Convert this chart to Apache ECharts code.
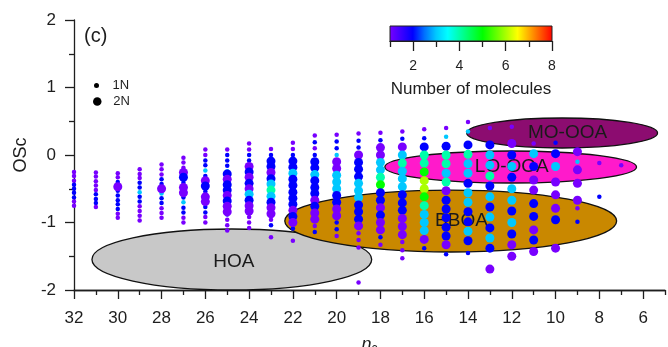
<!DOCTYPE html>
<html><head><meta charset="utf-8">
<script src="https://cdn.jsdelivr.net/npm/echarts@6/dist/echarts.min.js"></script>
<style>html,body{margin:0;padding:0;background:#fff}#c{width:668px;height:347px}</style>
</head><body><div id="c"></div>
<script>
// ---- tick values ----
const xTickValues = [6, 8, 10, 12, 14, 16, 18, 20, 22, 24, 26, 28, 30, 32];
const xMinorTickValues = [5, 7, 9, 11, 13, 15, 17, 19, 21, 23, 25, 27, 29, 31];
const colorbarTicks = [2, 4, 6, 8];
const colorbarMinorTicks = [1, 3, 5, 7];
const rainbowColors = ['#7800ff','#3c00ff','#0000ff','#0070ff','#00c8ff','#00ffff','#00ffaa','#00ff55','#00ff00','#55ff00','#aaff00','#ffff00','#ffaa00','#ff5500','#ff0000'];

// ---- source-type regions (ellipses in data units) ----
const regionNames = ['HOA', 'BBOA', 'LO-OOA', 'MO-OOA'];
const regionCx = [24.79, 14.79, 12.05, 9.7];
const regionCy = [-1.548, -0.978, -0.178, 0.326];
const regionRx = [6.39, 7.58, 5.75, 4.36];
const regionRy = [0.452, 0.459, 0.237, 0.222];
const regionLabelX = [24.7, 14.3, 12.0, 9.45];
const regionLabelY = [-1.58, -0.97, -0.18, 0.33];
const regionFill = ['#c8c8c8', '#c98800', '#ff1acb', '#8c0c70'];

// ---- points: [carbon number, OSc, number of molecules] ----
const oneN = [
 [32,-0.25,1],[32,-0.31,1],[32,-0.38,1],[32,-0.44,2],[32,-0.5,2],[32,-0.56,2],[32,-0.63,2],[32,-0.69,1],[32,-0.75,1],
 [31,-0.26,1],[31,-0.32,1],[31,-0.39,1],[31,-0.45,1],[31,-0.52,1],[31,-0.58,2],[31,-0.65,2],[31,-0.71,2],[31,-0.77,1],
 [30,-0.27,1],[30,-0.33,1],[30,-0.4,2],[30,-0.47,2],[30,-0.53,2],[30,-0.6,2],[30,-0.67,2],[30,-0.73,2],[30,-0.8,2],[30,-0.87,1],[30,-0.93,1],
 [29,-0.21,1],[29,-0.28,1],[29,-0.34,1],[29,-0.41,2],[29,-0.48,2],[29,-0.55,3],[29,-0.62,2],[29,-0.69,2],[29,-0.76,1],[29,-0.83,1],[29,-0.9,1],[29,-0.97,1],
 [28,-0.14,1],[28,-0.21,1],[28,-0.29,1],[28,-0.36,2],[28,-0.43,2],[28,-0.5,2],[28,-0.57,3],[28,-0.64,2],[28,-0.71,2],[28,-0.79,1],[28,-0.86,1],[28,-0.93,1],
 [27,-0.04,1],[27,-0.11,1],[27,-0.19,1],[27,-0.26,2],[27,-0.33,2],[27,-0.41,2],[27,-0.48,3],[27,-0.56,2],[27,-0.63,2],[27,-0.7,3],[27,-0.78,2],[27,-0.85,2],[27,-0.93,1],[27,-1.0,1],
 [26,0.08,1],[26,0,1],[26,-0.08,2],[26,-0.15,2],[26,-0.23,3],[26,-0.31,2],[26,-0.38,2],[26,-0.46,3],[26,-0.54,2],[26,-0.62,2],[26,-0.69,2],[26,-0.77,2],[26,-0.85,2],[26,-0.92,1],[26,-1.0,1],
 [25,0.08,1],[25,0,2],[25,-0.08,2],[25,-0.16,2],[25,-0.24,3],[25,-0.32,3],[25,-0.4,2],[25,-0.48,2],[25,-0.56,3],[25,-0.64,2],[25,-0.72,2],[25,-0.8,2],[25,-0.88,2],[25,-0.96,1],[25,-1.04,1],[25,-1.12,1],
 [24,0.17,1],[24,0.08,1],[24,0,2],[24,-0.08,2],[24,-0.17,2],[24,-0.25,2],[24,-0.33,2],[24,-0.42,3],[24,-0.5,2],[24,-0.58,3],[24,-0.67,2],[24,-0.75,2],[24,-0.83,3],[24,-0.92,1],[24,-1.0,1],[24,-1.08,1],
 [23,0.09,1],[23,0,2],[23,-0.09,2],[23,-0.17,2],[23,-0.26,2],[23,-0.35,2],[23,-0.43,3],[23,-0.52,3],[23,-0.61,2],[23,-0.7,2],[23,-0.78,2],[23,-0.87,2],[23,-0.96,1],[23,-1.04,2],[23,-1.22,1],
 [22,0.18,1],[22,0.09,1],[22,0,2],[22,-0.09,2],[22,-0.18,2],[22,-0.27,3],[22,-0.36,3],[22,-0.45,2],[22,-0.55,2],[22,-0.64,2],[22,-0.73,2],[22,-0.82,2],[22,-0.91,2],[22,-1.0,1],[22,-1.09,2],[22,-1.27,1],
 [21,0.29,1],[21,0.19,2],[21,0.1,1],[21,0,2],[21,-0.1,2],[21,-0.19,3],[21,-0.29,2],[21,-0.38,2],[21,-0.48,2],[21,-0.57,2],[21,-0.67,2],[21,-0.76,2],[21,-0.86,3],[21,-0.95,2],[21,-1.05,1],[21,-1.14,2],
 [20,0.3,1],[20,0.2,2],[20,0.1,2],[20,0,3],[20,-0.1,2],[20,-0.2,2],[20,-0.3,2],[20,-0.4,2],[20,-0.5,3],[20,-0.6,3],[20,-0.7,2],[20,-0.8,2],[20,-0.9,3],[20,-1.0,2],[20,-1.1,2],[20,-1.2,1],
 [19,0.32,1],[19,0.21,2],[19,0.11,2],[19,0,3],[19,-0.11,2],[19,-0.21,2],[19,-0.32,2],[19,-0.42,3],[19,-0.53,3],[19,-0.63,3],[19,-0.74,2],[19,-0.84,2],[19,-0.95,2],[19,-1.05,2],[19,-1.16,1],[19,-1.26,1],[19,-1.37,1],[19,-1.89,1],
 [18,0.33,1],[18,0.22,2],[18,-1.22,2],[18,-1.33,1],
 [17,0.35,1],[17,0.24,2],[17,-1.29,1],[17,-1.41,1],[17,-1.53,1],
 [16,0.38,1],[16,0.25,2],[16,-1.38,2],
 [15,0.4,1],[15,0.27,3],[15,-1.47,2],
 [14,0.49,1],[14,0.35,3],[14,-1.45,2],
 [13,0.4,1],
 [12,0.42,1],
 [11,0.17,1],
 [10,0.18,2],
 [9,-0.1,3],[9,-0.79,1],[9,-0.99,2],
 [8,-0.12,1],[8,-0.62,2],
 [7,-0.15,1]
];
const twoN = [
 [30,-0.47,1],
 [28,-0.5,1],
 [27,-0.26,1],[27,-0.33,2],[27,-0.48,1],[27,-0.56,1],
 [26,-0.38,1],[26,-0.46,2],[26,-0.62,1],[26,-0.69,1],
 [25,-0.28,2],[25,-0.36,1],[25,-0.44,2],[25,-0.52,2],[25,-0.6,1],[25,-0.68,2],[25,-0.76,1],[25,-0.84,1],
 [24,-0.17,1],[24,-0.25,2],[24,-0.33,1],[24,-0.42,2],[24,-0.5,1],[24,-0.58,3],[24,-0.67,2],[24,-0.75,1],[24,-0.83,1],
 [23,-0.09,2],[23,-0.17,2],[23,-0.26,1],[23,-0.35,2],[23,-0.43,3],[23,-0.52,4],[23,-0.61,3],[23,-0.7,2],[23,-0.78,1],[23,-0.87,1],
 [22,-0.09,2],[22,-0.18,2],[22,-0.27,3],[22,-0.36,2],[22,-0.45,2],[22,-0.55,2],[22,-0.64,2],[22,-0.73,2],[22,-0.82,1],[22,-0.91,2],[22,-1.0,1],
 [21,-0.1,2],[21,-0.19,2],[21,-0.29,3],[21,-0.38,2],[21,-0.48,2],[21,-0.57,2],[21,-0.67,1],[21,-0.76,2],[21,-0.86,1],[21,-0.95,1],
 [20,-0.1,1],[20,-0.2,1],[20,-0.3,3],[20,-0.4,3],[20,-0.5,3],[20,-0.6,2],[20,-0.7,2],[20,-0.8,1],[20,-0.9,1],
 [19,0,1],[19,-0.11,2],[19,-0.21,2],[19,-0.32,2],[19,-0.42,3],[19,-0.53,3],[19,-0.63,3],[19,-0.74,2],[19,-0.84,2],[19,-0.95,2],[19,-1.05,1],
 [18,0.11,1],[18,0,1],[18,-0.11,3],[18,-0.22,3],[18,-0.33,4],[18,-0.44,5],[18,-0.56,2],[18,-0.67,2],[18,-0.78,1],[18,-0.89,2],[18,-1.0,1],[18,-1.11,1],
 [17,0.12,1],[17,0,3],[17,-0.12,4],[17,-0.24,3],[17,-0.35,3],[17,-0.47,3],[17,-0.59,2],[17,-0.71,2],[17,-0.82,2],[17,-0.94,1],[17,-1.06,1],[17,-1.18,1],
 [16,0.12,2],[16,0,4],[16,-0.12,4],[16,-0.25,5],[16,-0.38,6],[16,-0.5,6],[16,-0.62,5],[16,-0.75,4],[16,-0.88,3],[16,-1.0,3],[16,-1.12,3],[16,-1.25,1],
 [15,0.13,2],[15,0,4],[15,-0.13,4],[15,-0.27,3],[15,-0.4,4],[15,-0.53,1],[15,-0.67,2],[15,-0.8,2],[15,-0.93,2],[15,-1.07,2],[15,-1.2,2],[15,-1.33,1],
 [14,0.15,2],[14,0.01,4],[14,-0.13,3],[14,-0.27,3],[14,-0.42,2],[14,-0.56,3],[14,-0.7,3],[14,-0.84,2],[14,-0.99,2],[14,-1.13,3],[14,-1.27,2],
 [13,0.15,2],[13,0,3],[13,-0.15,3],[13,-0.31,4],[13,-0.46,2],[13,-0.62,3],[13,-0.77,2],[13,-0.92,3],[13,-1.08,2],[13,-1.23,3],[13,-1.38,2],[13,-1.69,1],
 [12,0.17,1],[12,0,2],[12,-0.17,3],[12,-0.33,2],[12,-0.5,3],[12,-0.67,3],[12,-0.83,2],[12,-1.0,3],[12,-1.17,2],[12,-1.33,1],[12,-1.5,1],
 [11,0.02,3],[11,-0.17,2],[11,-0.37,1],[11,-0.52,1],[11,-0.72,2],[11,-0.91,2],[11,-1.11,1],[11,-1.26,2],[11,-1.43,1],
 [10,0.02,2],[10,-0.17,3],[10,-0.4,1],[10,-0.59,1],[10,-0.79,1],[10,-0.96,2],[10,-1.38,1],
 [9,0.05,1],[9,-0.22,1],[9,-0.42,1],[9,-0.67,1]
];

const FONT = 'Liberation Sans, Arial, sans-serif';
const INK = '#1e1e1e';

const regionData = regionNames.map((n, i) => [regionCx[i], regionCy[i], regionRx[i], regionRy[i], regionLabelX[i], regionLabelY[i], i]);

const gradientStops = rainbowColors.map((c, i) => ({offset: i / (rainbowColors.length - 1), color: c}));

const chart = echarts.init(document.getElementById('c'), null, {renderer: 'canvas'});
chart.setOption({
  animation: false,
  backgroundColor: '#fff',
  textStyle: {fontFamily: FONT},
  grid: [
    {left: 74, right: 3, top: 20, bottom: 57, outerBoundsMode: 'none', containLabel: false},
    {left: 390, top: 26, width: 162, height: 15, show: true, borderColor: '#222', borderWidth: 1,
     outerBoundsMode: 'none', containLabel: false,
     backgroundColor: {type: 'linear', x: 0, y: 0, x2: 1, y2: 0, colorStops: gradientStops}}
  ],
  xAxis: [
    {type: 'value', gridIndex: 0, min: 5, max: 32, inverse: true, position: 'bottom',
     axisLine: {show: true, onZero: false, lineStyle: {color: INK, width: 1.3}},
     axisTick: {show: true, length: 5, customValues: xMinorTickValues, lineStyle: {color: INK, width: 1.3}},
     axisLabel: {show: false}, splitLine: {show: false}},
    {type: 'value', gridIndex: 0, min: 5, max: 32, inverse: true, position: 'bottom',
     axisLine: {show: true, onZero: false, lineStyle: {color: INK, width: 1.3}},
     axisTick: {show: true, length: 9, customValues: xTickValues, lineStyle: {color: INK, width: 1.3}},
     axisLabel: {show: true, customValues: xTickValues, fontSize: 17, color: INK, margin: 20, fontFamily: FONT},
     splitLine: {show: false},
     name: '{n|n}{c|c}', nameLocation: 'middle', nameGap: 45,
     nameTextStyle: {rich: {n: {fontSize: 18, fontStyle: 'italic', color: INK, fontFamily: FONT}, c: {fontSize: 12, color: INK, fontFamily: FONT, padding: [8, 0, 0, 0]}}}},
    {type: 'value', gridIndex: 1, min: 1, max: 8, position: 'bottom',
     axisLine: {show: true, onZero: false, lineStyle: {color: INK, width: 1}},
     axisTick: {show: true, length: 6, customValues: colorbarMinorTicks, lineStyle: {color: INK, width: 1.3}},
     axisLabel: {show: false}, splitLine: {show: false}},
    {type: 'value', gridIndex: 1, min: 1, max: 8, position: 'bottom',
     axisLine: {show: true, onZero: false, lineStyle: {color: INK, width: 1}},
     axisTick: {show: true, length: 10, customValues: colorbarTicks, lineStyle: {color: INK, width: 1.3}},
     axisLabel: {show: true, customValues: colorbarTicks, fontSize: 14, color: INK, margin: 18, fontFamily: FONT},
     splitLine: {show: false},
     name: 'Number of molecules', nameLocation: 'middle', nameGap: 40,
     nameTextStyle: {fontSize: 17, color: INK, fontFamily: FONT}}
  ],
  yAxis: [
    {type: 'value', gridIndex: 0, min: -2, max: 2, interval: 1,
     axisLine: {show: true, onZero: false, lineStyle: {color: INK, width: 1.3}},
     axisTick: {show: true, length: 9, lineStyle: {color: INK, width: 1.3}},
     minorTick: {show: true, splitNumber: 2, length: 5, lineStyle: {color: INK, width: 1.3}},
     axisLabel: {fontSize: 17, color: INK, margin: 18, fontFamily: FONT},
     splitLine: {show: false},
     name: 'OSc', nameLocation: 'middle', nameGap: 43,
     nameTextStyle: {fontSize: 18, color: INK, fontFamily: FONT}},
    {type: 'value', gridIndex: 1, min: 0, max: 1, show: false, splitLine: {show: false}}
  ],
  visualMap: {
    type: 'continuous', show: false, seriesIndex: [1, 2], dimension: 2,
    min: 1, max: 8, inRange: {color: rainbowColors}
  },
  legend: [
    {data: ['1N'], left: 94, top: 79, padding: 0, itemWidth: 22, itemHeight: 5, icon: 'circle',
     itemStyle: {color: '#000'}, selectedMode: false,
     textStyle: {fontSize: 13, color: INK, fontFamily: FONT}},
    {data: ['2N'], left: 93, top: 95, padding: 0, itemWidth: 22, itemHeight: 8.5, icon: 'circle',
     itemStyle: {color: '#000'}, selectedMode: false,
     textStyle: {fontSize: 13, color: INK, fontFamily: FONT}}
  ],
  graphic: [
    {type: 'text', left: 84, top: 26, style: {text: '(c)', fontSize: 20, fill: INK, fontFamily: FONT}}
  ],
  series: [
    {type: 'custom', name: 'regions', xAxisIndex: 0, yAxisIndex: 0, silent: true, clip: false,
     data: regionData, encode: {x: 0, y: 1},
     renderItem: function (params, api) {
       const i = api.value(6);
       const c = api.coord([api.value(0), api.value(1)]);
       const s = api.size([api.value(2), api.value(3)]);
       const l = api.coord([api.value(4), api.value(5)]);
       return {type: 'group', children: [
         {type: 'ellipse', shape: {cx: c[0], cy: c[1], rx: s[0], ry: s[1]},
          style: {fill: regionFill[i], stroke: '#111', lineWidth: 1.3}},
         {type: 'text', x: l[0], y: l[1],
          style: {text: regionNames[i], fill: '#1a1a1a', fontSize: 19, fontFamily: FONT, align: 'center', verticalAlign: 'middle'}}
       ]};
     }},
    {type: 'scatter', name: '1N', xAxisIndex: 0, yAxisIndex: 0, data: oneN, symbol: 'circle', symbolSize: 4.5, itemStyle: {opacity: 1}},
    {type: 'scatter', name: '2N', xAxisIndex: 0, yAxisIndex: 0, data: twoN, symbol: 'circle', symbolSize: 9, itemStyle: {opacity: 1}}
  ]
});
</script>
</body></html>
